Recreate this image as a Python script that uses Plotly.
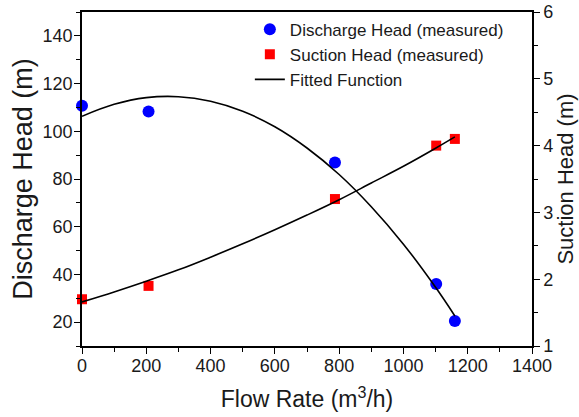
import plotly.graph_objects as go

# Measured data
flow_measured = [0, 207, 787, 1102, 1160]
discharge_measured = [110.7, 108.3, 86.9, 36.0, 20.5]
suction_measured = [1.70, 1.90, 3.20, 4.00, 4.10]

# Fitted curves
flow_fit = [0, 100, 200, 300, 400, 500, 600, 700, 800, 900, 1000, 1100, 1160]
discharge_fit = [106.3, 111.3, 114.1, 114.5, 112.6, 108.4, 101.9, 93.0, 81.9, 68.4, 52.7, 34.6, 22.6]
suction_fit = [1.66, 1.81, 1.97, 2.14, 2.33, 2.53, 2.74, 2.96, 3.19, 3.44, 3.69, 3.96, 4.13]

x_ticks = [0, 200, 400, 600, 800, 1000, 1200, 1400]
y1_ticks = [20, 40, 60, 80, 100, 120, 140]
y2_ticks = [1, 2, 3, 4, 5, 6]

font_family = "Liberation Sans, Arial, sans-serif"
text_color = "#1a1a1a"

fig = go.Figure()
fig.add_trace(go.Scatter(
    x=flow_measured, y=discharge_measured, mode="markers",
    name="Discharge Head (measured)",
    marker=dict(symbol="circle", size=12, color="#0000ff"),
    legendrank=1, cliponaxis=False,
))
fig.add_trace(go.Scatter(
    x=flow_measured, y=suction_measured, mode="markers", yaxis="y2",
    name="Suction Head (measured)",
    marker=dict(symbol="square", size=10, color="#ff0000"),
    legendrank=2, cliponaxis=False,
))
fig.add_trace(go.Scatter(
    x=flow_fit, y=discharge_fit, mode="lines",
    name="Fitted Function",
    line=dict(color="black", width=1.6, shape="spline"),
    legendrank=3,
))
fig.add_trace(go.Scatter(
    x=flow_fit, y=suction_fit, mode="lines", yaxis="y2",
    name="Fitted Function", showlegend=False,
    line=dict(color="black", width=1.6, shape="spline"),
))

axis_common = dict(
    showline=True, linecolor="black", linewidth=1.5,
    ticks="outside", ticklen=6, tickwidth=1.3, tickcolor="black",
    showgrid=False, zeroline=False, automargin=False,
    tickfont=dict(family=font_family, size=18, color=text_color),
)

fig.update_layout(
    width=579, height=417,
    margin=dict(l=82, r=47, t=12, b=71),
    paper_bgcolor="white", plot_bgcolor="white",
    font=dict(family=font_family, color=text_color),
    showlegend=True,
    legend=dict(
        x=0.373, y=1.001, xanchor="left", yanchor="top",
        bgcolor="rgba(0,0,0,0)", borderwidth=0,
        font=dict(family=font_family, size=17, color=text_color),
        tracegroupgap=0, itemwidth=30,
    ),
    xaxis=dict(
        **axis_common, range=[0, 1400], tickvals=x_ticks, mirror=True,
        ticklabelstandoff=-3,
        minor=dict(ticks="outside", dtick=100, ticklen=4, tickcolor="black"),
        title=dict(text="Flow Rate (m<sup>3</sup>/h)", font=dict(family=font_family, size=23, color=text_color), standoff=16),
    ),
    yaxis=dict(
        **axis_common, range=[10, 150], tickvals=y1_ticks,
        ticklabelstandoff=-2,
        minor=dict(ticks="outside", dtick=10, tick0=10, ticklen=4, tickcolor="black"),
        title=dict(text="Discharge Head (m)", font=dict(family=font_family, size=27, color=text_color), standoff=2),
    ),
    yaxis2=dict(
        **axis_common, range=[1, 6], tickvals=y2_ticks, overlaying="y", side="right",
        ticklabelstandoff=0,
        minor=dict(ticks="outside", dtick=0.5, tick0=1, ticklen=4, tickcolor="black"),
        title=dict(text="Suction Head (m)", font=dict(family=font_family, size=22, color=text_color), standoff=2),
    ),
)

fig.write_html("out.html", config={"displayModeBar": False},
               post_script="document.body.style.margin='0';")
